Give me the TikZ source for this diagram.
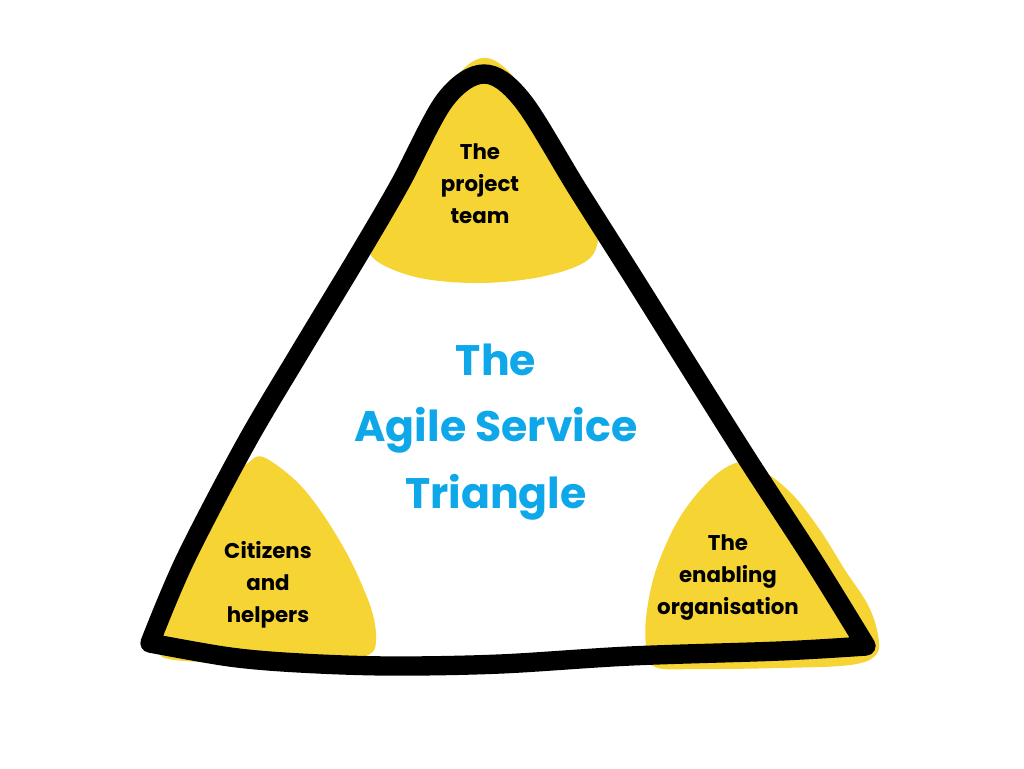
\documentclass[tikz,border=0pt]{standalone}
\usepackage{fontspec}
\setmainfont{Poppins}
\definecolor{blobyellow}{RGB}{245,212,52}
\definecolor{titleblue}{RGB}{14,168,234}
\tikzset{
  blob/.style={fill=blobyellow, draw=none},
  tri/.style={draw=black, line width=14.5pt, line join=round, line cap=round},
  lbl/.style={align=center, inner sep=0pt, text=black, font=\fontsize{16}{24}\selectfont\bfseries},
  ttl/.style={align=center, inner sep=0pt, text=titleblue, font=\fontsize{32}{50}\selectfont\bfseries}
}
\begin{document}
\begin{tikzpicture}[x=0.75pt,y=-0.75pt]
\useasboundingbox (0,0) rectangle (1024,768);
% yellow blobs
\fill[blob] plot[smooth cycle, tension=0.6] coordinates {(482,58) (505,68) (530,100) (565,158) (592,212) (598,240) (585,262) (540,277) (480,283) (420,278) (378,262) (369,244) (380,222) (410,170) (440,112) (458,75)};
\fill[blob] plot[smooth cycle, tension=0.6] coordinates {(263,457) (295,480) (320,510) (345,550) (362,585) (373,615) (376,640) (370,654) (340,662) (250,663) (175,660) (158,650) (160,620) (175,580) (205,530) (235,475) (248,463)};
\fill[blob] plot[smooth cycle, tension=0.6] coordinates {(740,462) (762,470) (792,494) (820,530) (845,570) (868,605) (878,635) (876,655) (850,665) (780,668) (700,669) (655,667) (646,645) (647,610) (657,567) (680,517) (712,478)};
% triangle outline
\draw[tri] plot[smooth, tension=0.55] coordinates {(150,643) (185,560) (245,445) (300,352) (358,256) (400,184) (445,100) (484,74) (522,100) (578,190) (635,280) (690,368) (748,460) (813,560) (866,646)}
  -- plot[smooth, tension=0.55] coordinates {(866,646) (780,651) (630,656) (500,664) (390,666) (300,663) (230,657) (150,643)} -- cycle;
% labels
\node[lbl] (team) at (480,184) {The\\project\\team};
\node[lbl] (citizens) at (268,585) {Citizens\\and\\helpers};
\node[lbl] (enabling) at (728,578) {The\\enabling\\organisation};
\node[ttl] (title) at (496,432) {The\\Agile Service\\Triangle};
\end{tikzpicture}
\end{document}
